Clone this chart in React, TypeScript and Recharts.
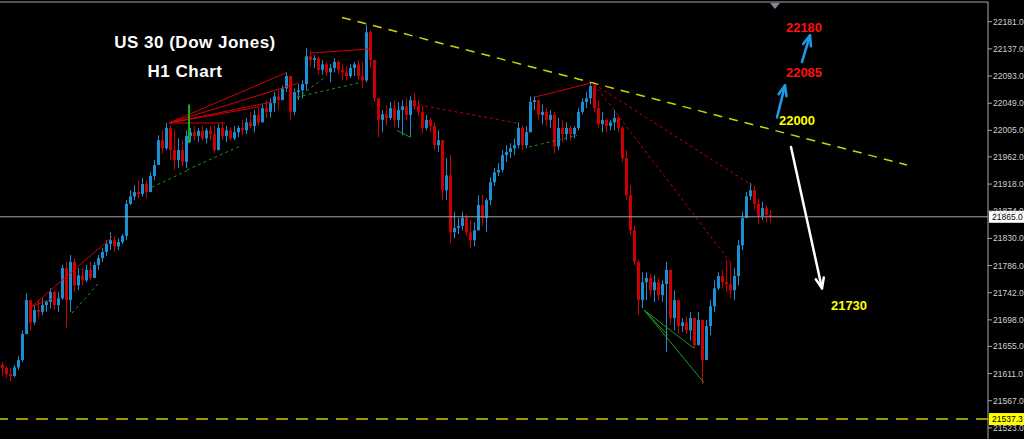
import React from "react";
import { Bar, ComposedChart, ReferenceDot, ReferenceLine, XAxis, YAxis } from "recharts";

document.body.style.margin = "0";
document.body.style.background = "#000";

// H1 candles (one candle every 4px)
const HIGHS = [
  21630, 21623, 21620, 21625, 21639, 21681, 21741, 21730, 21722, 21730,
  21733, 21730, 21749, 21746, 21743, 21787, 21792, 21803, 21798, 21782,
  21782, 21787, 21792, 21792, 21803, 21814, 21827, 21840, 21834, 21830,
  21837, 21892, 21908, 21916, 21924, 21928, 21924, 21937, 21957, 21997,
  22005, 22017, 22013, 22005, 21992, 21989, 22005, 22009, 22012, 22009,
  22013, 22009, 22012, 22013, 22015, 22018, 22012, 22010, 22012, 22013,
  22022, 22025, 22035, 22038, 22041, 22047, 22054, 22057, 22067, 22070,
  22078, 22099, 22090, 22073, 22080, 22086, 22138, 22135, 22127, 22125,
  22119, 22116, 22112, 22122, 22119, 22112, 22109, 22112, 22116, 22119,
  22116, 22176, 22167, 22119, 22054, 22038, 22046, 22051, 22054, 22051,
  22054, 22057, 22060, 22065, 22054, 22044, 22030, 22025, 22018, 22005,
  21989, 21960, 21965, 21873, 21863, 21873, 21869, 21860, 21856, 21900,
  21900, 21895, 21929, 21944, 21952, 21973, 21981, 21984, 21992, 22018,
  22013, 22012, 22060, 22060, 22054, 22047, 22041, 22038, 22035, 22025,
  22022, 22018, 22012, 22012, 22041, 22057, 22067, 22083, 22083, 22054,
  22035, 22025, 22022, 22038, 22030, 22012, 21973, 21916, 21851, 21795,
  21775, 21775, 21772, 21770, 21766, 21762, 21792, 21779, 21746, 21730,
  21701, 21704, 21711, 21701, 21711, 21694, 21698, 21730, 21762, 21775,
  21779, 21795, 21792, 21782, 21827, 21873, 21905, 21920, 21915, 21895,
  21889, 21884, 21876,
];
const LOWS = [
  21608, 21604, 21599, 21605, 21617, 21630, 21681, 21681, 21690, 21701,
  21706, 21711, 21717, 21714, 21711, 21730, 21685, 21711, 21743, 21746,
  21753, 21759, 21762, 21769, 21779, 21792, 21801, 21811, 21808, 21811,
  21821, 21827, 21884, 21892, 21895, 21898, 21895, 21908, 21924, 21949,
  21968, 21973, 21957, 21941, 21944, 21947, 21944, 21986, 21989, 21986,
  21989, 21984, 21989, 21968, 21973, 21989, 21986, 21989, 21989, 21994,
  21997, 21999, 22009, 22002, 22013, 22018, 22025, 22026, 22035, 22038,
  22054, 22067, 22022, 22030, 22054, 22057, 22070, 22109, 22106, 22096,
  22095, 22093, 22083, 22099, 22096, 22086, 22086, 22090, 22093, 22086,
  22073, 22083, 22106, 22051, 21994, 22002, 22013, 22022, 22010, 22009,
  21997, 22022, 21994, 22038, 22028, 22000, 22005, 22002, 21973, 21970,
  21892, 21892, 21822, 21830, 21837, 21843, 21834, 21814, 21817, 21843,
  21850, 21840, 21884, 21915, 21931, 21937, 21954, 21960, 21965, 21976,
  21973, 21976, 22005, 22038, 22022, 22015, 22012, 22009, 21968, 21973,
  21986, 21989, 21989, 21992, 22005, 22031, 22041, 22047, 22035, 22009,
  22002, 22002, 22005, 22005, 22002, 21954, 21892, 21835, 21787, 21706,
  21717, 21730, 21736, 21727, 21730, 21727, 21646, 21690, 21681, 21675,
  21678, 21675, 21665, 21652, 21665, 21594, 21636, 21673, 21711, 21746,
  21749, 21743, 21733, 21730, 21754, 21811, 21863, 21892, 21876, 21853,
  21860, 21856, 21855,
];
const CLOSES = [
  21620, 21610, 21607, 21621, 21633, 21675, 21730, 21694, 21714, 21711,
  21722, 21727, 21743, 21722, 21733, 21782, 21730, 21792, 21754, 21770,
  21762, 21779, 21766, 21787, 21798, 21808, 21821, 21827, 21817, 21824,
  21834, 21886, 21898, 21905, 21902, 21918, 21905, 21931, 21949, 21989,
  21976, 22009, 21973, 21957, 21973, 21954, 21996, 22002, 21996, 22004,
  21992, 22005, 21999, 21973, 22009, 21996, 22005, 21992, 22002, 22009,
  22005, 22018, 22012, 22030, 22018, 22041, 22035, 22049, 22060, 22054,
  22073, 22093, 22035, 22067, 22070, 22080, 22125, 22119, 22122, 22103,
  22112, 22099, 22106, 22116, 22103, 22099, 22093, 22106, 22112, 22093,
  22086, 22164, 22119, 22057, 22022, 22031, 22025, 22041, 22022, 22038,
  22044, 22030, 22054, 22044, 22035, 22009, 22022, 22012, 21981, 21989,
  21908, 21932, 21840, 21847, 21850, 21863, 21840, 21827, 21843, 21884,
  21863, 21892, 21921, 21937, 21941, 21965, 21970, 21976, 21981, 22009,
  21981, 22002, 22051, 22054, 22030, 22035, 22022, 22030, 21979, 22009,
  21999, 22009, 21999, 22009, 22035, 22051, 22057, 22077, 22041, 22015,
  22022, 22012, 22018, 22025, 22009, 21960, 21900, 21843, 21792, 21730,
  21759, 21766, 21746, 21759, 21738, 21756, 21779, 21701, 21730, 21688,
  21694, 21681, 21701, 21657, 21698, 21633, 21688, 21720, 21749, 21769,
  21759, 21756, 21746, 21769, 21819, 21863, 21898, 21908, 21886, 21866,
  21879, 21868, 21865,
];
const FIRST_OPEN = 21625;

const Y_MIN = 21505;
const Y_MAX = 22213;
const Y_TICKS = [22181, 22137, 22093, 22049, 22005, 21962, 21918, 21874, 21830, 21786, 21742, 21698, 21655, 21611, 21567, 21523];
const LAST_PRICE = 21865.0;
const SUPPORT_PRICE = 21537.3;

// drawn objects: [barX1, price1, barX2, price2]
const RESISTANCE = [85, 22188, 226.25, 21949];
const RED_SOLID = [
  [41.75, 22017, 71.25, 22099],
  [41.75, 22017, 74.25, 22082],
  [41.75, 22017, 67.5, 22051],
  [41.75, 22017, 64.25, 22043],
  [41.75, 22017, 55.75, 22017],
  [77, 22130, 91.75, 22137],
  [7.5, 21720, 27.5, 21832],
  [7.5, 21720, 12.5, 21732],
  [133.25, 22059, 148, 22083],
];
const RED_DOTTED = [
  [104.25, 22046, 128.75, 22017],
  [148, 22080, 187.5, 21916],
  [148, 22080, 182, 21792],
];
const GREEN_DASHED = [
  [37.5, 21913, 46.75, 21941],
  [46.25, 21941, 60, 21981],
  [73.75, 22057, 80.5, 22090],
  [73.75, 22059, 89.25, 22082],
  [17.5, 21709, 24.25, 21758],
  [131.75, 21978, 143.75, 21997],
];
const GREEN_SOLID = [
  [98.75, 22005, 102, 21994],
  [160.5, 21714, 173, 21652],
  [160.5, 21714, 175.5, 21596],
  [160.5, 21714, 166.5, 21673],
];
const GREEN_MARK = [46.75, 22047, 46.75, 21984];
const ARROWS = [
  { seg: [193.75, 22026, 195.75, 22078], color: "#1e9be6" },
  { seg: [200, 22116, 202, 22159], color: "#1e9be6" },
  { seg: [197.25, 21978, 205, 21749], color: "#ffffff" },
];
const TARGETS = [
  { x: 200.5, y: 22172, text: "22180", color: "#ff1010" },
  { x: 200.5, y: 22099, text: "22085", color: "#ff1010" },
  { x: 198.75, y: 22022, text: "22000", color: "#ffff00" },
  { x: 211.75, y: 21722, text: "21730", color: "#ffff00" },
];

const UP = "#1b8fd2";
const DOWN = "#cc0000";

const bars = CLOSES.map((close, i) => {
  const open = i === 0 ? FIRST_OPEN : CLOSES[i - 1];
  const high = Math.max(HIGHS[i], open, close);
  const low = Math.min(LOWS[i], open, close);
  return { i, open, high, low, close, range: [low, high] };
});

function Candle(props: any) {
  const { x, y, width, height, payload } = props;
  if (!payload) return null;
  const top = Math.min(y, y + height);
  const h = Math.abs(height);
  const span = payload.high - payload.low || 1;
  const toY = (p: number) => top + ((payload.high - p) / span) * h;
  const cx = Math.round(x + width / 2);
  const color = payload.close >= payload.open ? UP : DOWN;
  const yo = toY(payload.open);
  const yc = toY(payload.close);
  return (
    <g fill={color}>
      <rect x={cx} y={top} width={1} height={Math.max(h, 1)} />
      <rect x={cx - 1} y={Math.min(yo, yc)} width={3} height={Math.max(Math.abs(yo - yc), 1)} />
    </g>
  );
}

function Arrow(props: any) {
  const { x1, y1, x2, y2, stroke } = props;
  const a = Math.atan2(y2 - y1, x2 - x1);
  const len = 11;
  const p = (d: number) => `${x2 - len * Math.cos(a + d)},${y2 - len * Math.sin(a + d)}`;
  return (
    <g stroke={stroke} strokeWidth={2.5} fill="none" strokeLinecap="round" strokeLinejoin="round">
      <line x1={x1} y1={y1} x2={x2} y2={y2} />
      <polyline points={`${p(0.38)} ${x2},${y2} ${p(-0.38)}`} />
    </g>
  );
}

const priceTag = (text: string, bg: string) => (props: any) => {
  const vb = props.viewBox || {};
  const right = (vb.x || 0) + (vb.width || 0);
  const cy = vb.y || 0;
  return (
    <g>
      <rect x={right + 1} y={cy - 6} width={35} height={12} fill={bg} />
      <text x={right + 4} y={cy + 3} fontSize={8.5} fontFamily="Arial, 'Liberation Sans'" fill="#000">
        {text}
      </text>
    </g>
  );
};

const seg = (s: number[]) => [
  { x: s[0], y: s[1] },
  { x: s[2], y: s[3] },
];

const titleStyle: React.CSSProperties = {
  position: "absolute",
  color: "#fff",
  fontFamily: "Arial, 'Liberation Sans', sans-serif",
  fontWeight: 700,
  fontSize: 17,
  letterSpacing: 0.5,
  textAlign: "center",
  width: 300,
  lineHeight: "20px",
};

export default function App() {
  return (
    <div style={{ position: "relative", width: 1024, height: 439, background: "#000", overflow: "hidden" }}>
      <ComposedChart width={1024} height={439} data={bars} margin={{ top: 2, right: 0, bottom: 0, left: 0 }}>
        <XAxis dataKey="i" type="number" domain={[-0.5, 246.5]} hide allowDataOverflow />
        <YAxis
          orientation="right"
          type="number"
          domain={[Y_MIN, Y_MAX]}
          ticks={Y_TICKS}
          interval={0}
          width={36}
          allowDataOverflow
          axisLine={{ stroke: "#a8a8a8" }}
          tickLine={{ stroke: "#a8a8a8" }}
          tickSize={4}
          tickMargin={1}
          tick={{ fill: "#d0d0d0", fontSize: 8.5, fontFamily: "Arial, 'Liberation Sans'" }}
          tickFormatter={(v: number) => v.toFixed(1)}
        />
        <ReferenceLine y={Y_MAX} stroke="#a8a8a8" />
        <ReferenceLine y={LAST_PRICE} stroke="#9ea4b0" label={priceTag(LAST_PRICE.toFixed(1), "#ffffff")} />
        <ReferenceLine
          y={SUPPORT_PRICE}
          stroke="#c8c800"
          strokeWidth={1.5}
          strokeDasharray="12 8"
          label={priceTag(SUPPORT_PRICE.toFixed(1), "#ffff00")}
        />
        {RED_SOLID.map((s, k) => (
          <ReferenceLine key={`rs${k}`} segment={seg(s)} stroke="#d40000" ifOverflow="visible" />
        ))}
        {RED_DOTTED.map((s, k) => (
          <ReferenceLine key={`rd${k}`} segment={seg(s)} stroke="#c00000" strokeDasharray="3 3" ifOverflow="visible" />
        ))}
        {GREEN_DASHED.map((s, k) => (
          <ReferenceLine key={`gd${k}`} segment={seg(s)} stroke="#1f8f1f" strokeDasharray="3 3" ifOverflow="visible" />
        ))}
        {GREEN_SOLID.map((s, k) => (
          <ReferenceLine key={`gs${k}`} segment={seg(s)} stroke="#1f9a1f" ifOverflow="visible" />
        ))}
        <Bar dataKey="range" shape={Candle} barSize={3} isAnimationActive={false} />
        <ReferenceLine segment={seg(GREEN_MARK)} stroke="#10b010" strokeWidth={2} ifOverflow="visible" />
        <ReferenceLine segment={seg(RESISTANCE)} stroke="#d2d200" strokeWidth={1.5} strokeDasharray="9 7" ifOverflow="visible" />
        {ARROWS.map((a, k) => (
          <ReferenceLine key={`ar${k}`} segment={seg(a.seg)} stroke={a.color} shape={Arrow} ifOverflow="visible" />
        ))}
        {TARGETS.map((t) => (
          <ReferenceDot
            key={t.text}
            x={t.x}
            y={t.y}
            r={1}
            fill="none"
            stroke="none"
            ifOverflow="visible"
            label={{
              value: t.text,
              position: "center",
              fill: t.color,
              fontSize: 13,
              fontWeight: 700,
              fontFamily: "Arial, 'Liberation Sans'",
            }}
          />
        ))}
        <ReferenceDot
          x={193.25}
          y={Y_MAX}
          r={1}
          ifOverflow="visible"
          shape={(p: any) => (
            <polygon points={`${p.cx - 5},${p.cy + 1} ${p.cx + 5},${p.cy + 1} ${p.cx},${p.cy + 7}`} fill="#7f8a99" />
          )}
        />
      </ComposedChart>
      <div style={{ ...titleStyle, left: 45, top: 33 }}>US 30 (Dow Jones)</div>
      <div style={{ ...titleStyle, left: 35, top: 62 }}>H1 Chart</div>
    </div>
  );
}
